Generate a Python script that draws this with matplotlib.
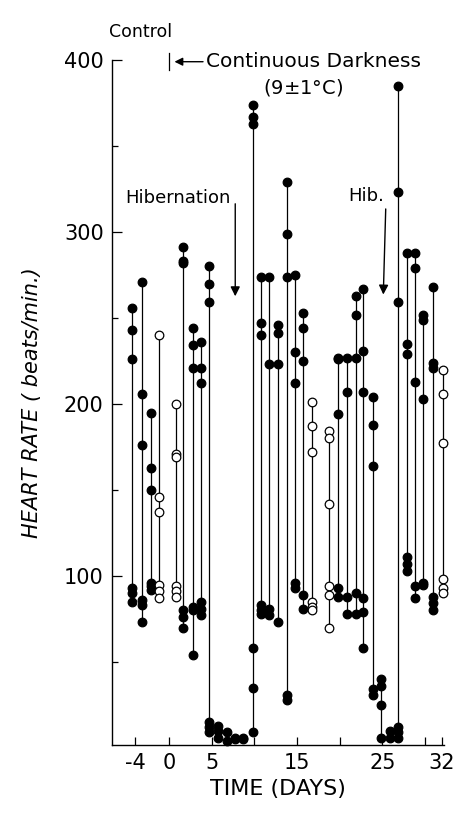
import matplotlib
matplotlib.use("Agg")
import matplotlib.pyplot as plt

# ---- data ----
days = [-4.35, -3.18, -2.12, -1.18, 0.81, 1.63, 2.80, 3.74, 4.68, 5.73, 6.79,
        7.72, 8.66, 9.84, 10.77, 11.71, 12.77, 13.82, 14.76, 15.70, 16.75,
        18.74, 19.80, 20.85, 21.91, 22.73, 23.90, 24.84, 25.90, 26.83, 27.88,
        28.82, 29.76, 30.93, 32.05]
rates = [
    [256, 243, 226, 93, 90, 85],
    [271, 206, 176, 86, 83, 73],
    [195, 163, 150, 96, 94, 92],
    [240, 146, 137, 95, 91, 87],
    [200, 171, 169, 94, 91, 88],
    [291, 283, 282, 80, 76, 70],
    [244, 234, 221, 82, 80, 54],
    [236, 221, 212, 85, 81, 77],
    [280, 270, 259, 15, 12, 9],
    [13, 10, 6],
    [9, 4],
    [6, 5],
    [6, 5],
    [374, 367, 363, 58, 35, 9],
    [274, 247, 240, 83, 80, 78],
    [274, 223, 81, 77],
    [246, 241, 223, 73],
    [329, 299, 274, 31, 28],
    [275, 230, 212, 96, 93],
    [253, 244, 225, 89, 81],
    [201, 187, 172, 85, 82, 80],
    [184, 180, 142, 94, 89, 70],
    [227, 226, 194, 93, 88],
    [227, 207, 88, 78],
    [263, 252, 227, 90, 78],
    [267, 231, 207, 87, 79, 58],
    [204, 188, 164, 34, 31],
    [40, 36, 25, 6],
    [10, 6],
    [385, 323, 259, 12, 9, 6],
    [288, 235, 229, 111, 107, 103],
    [288, 279, 213, 94, 87],
    [252, 249, 203, 96, 95],
    [268, 224, 221, 88, 84, 80],
    [220, 206, 177, 98, 93, 90],
]
is_open = [False, False, False, True, True, False, False, False, False, False,
           False, False, False, False, False, False, False, False, False, False,
           True, True, False, False, False, False, False, False, False, False,
           False, False, False, False, True]

x_ticks = [-4, 0, 5, 10, 15, 20, 25, 30, 32]
x_labels = ["-4", "0", "5", "", "15", "", "25", "", "32"]
y_major = [100, 200, 300, 400]
y_minor = [50, 150, 250, 350]

plt.rcParams['font.family'] = ['DejaVu Sans']

fig = plt.figure(figsize=(4.58, 8.14), dpi=100)
ax = fig.add_axes([0.2445, 0.0848, 0.7245, 0.8415])

for d, vals, op in zip(days, rates, is_open):
    ax.plot([d, d], [min(vals), max(vals)], color='black', lw=0.9,
            solid_capstyle='butt', clip_on=False, zorder=2)
    ax.plot([d] * len(vals), vals, linestyle='none', marker='o',
            markersize=6.2, markeredgewidth=0.9, markeredgecolor='black',
            markerfacecolor='white' if op else 'black', clip_on=False,
            zorder=3)

ax.set_xlim(-6.7, 32.2)
ax.set_ylim(1.7, 400)

for s in ['top', 'right']:
    ax.spines[s].set_visible(False)
for s in ['left', 'bottom']:
    ax.spines[s].set_linewidth(1.0)

ax.set_xticks(x_ticks)
ax.set_xticklabels(x_labels)
ax.set_yticks(y_major)
ax.set_yticks(y_minor, minor=True)
ax.tick_params(axis='both', which='major', direction='in', length=7,
               width=0.9, labelsize=15, pad=6)
ax.tick_params(axis='y', which='minor', direction='in', length=4, width=0.9)
ax.tick_params(axis='x', which='major', length=6)

ax.set_xlabel("TIME (DAYS)", fontsize=16, labelpad=4)
ax.set_ylabel("HEART RATE ( beats/min.)", fontsize=15, style='italic',
              labelpad=16)

# annotations
ax.text(-3.4, 416, "Control", fontsize=12.5, ha='center', va='center',
        clip_on=False)
ax.plot([0, 0], [394, 404], color='black', lw=0.9, clip_on=False)
ax.annotate("", xy=(0.3, 399), xytext=(4.3, 399),
            arrowprops=dict(arrowstyle='-|>', color='black', lw=1.0,
                            mutation_scale=12), annotation_clip=False)
ax.text(4.35, 399, "Continuous Darkness", fontsize=14.5, ha='left',
        va='center', clip_on=False)
ax.text(15.7, 384, "(9$\\pm$1°C)", fontsize=14, ha='center', va='center',
        clip_on=False)

ax.text(1.0, 320, "Hibernation", fontsize=13, ha='center', va='center')
ax.annotate("", xy=(7.75, 261), xytext=(7.75, 318),
            arrowprops=dict(arrowstyle='-|>', color='black', lw=1.0,
                            mutation_scale=14))
ax.text(23.1, 321, "Hib.", fontsize=13, ha='center', va='center')
ax.annotate("", xy=(25.1, 262), xytext=(25.4, 315),
            arrowprops=dict(arrowstyle='-|>', color='black', lw=1.0,
                            mutation_scale=14))

fig.savefig("out.png", dpi=100)
